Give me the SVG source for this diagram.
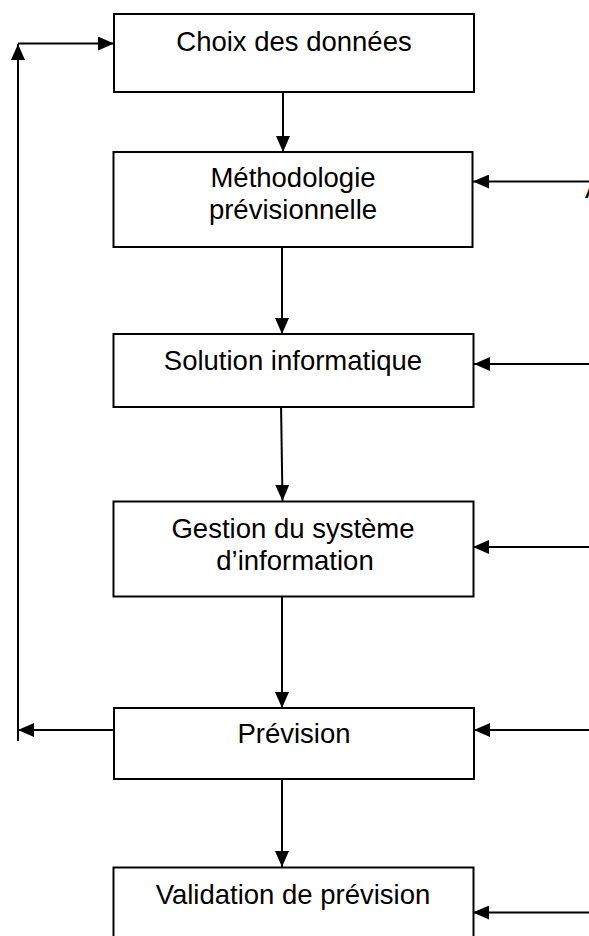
<svg xmlns="http://www.w3.org/2000/svg" width="589" height="936" viewBox="0 0 589 936">
  <style>
    .box { fill: #ffffff; stroke: #000000; stroke-width: 2; }
    .lbl { font-family: "Liberation Sans", Arial, sans-serif; font-size: 27.5px; fill: #000000; text-anchor: middle; }
    .edge { fill: none; stroke: #000000; stroke-width: 2; marker-end: url(#head); }
    .line { fill: none; stroke: #000000; stroke-width: 2; }
  </style>
  <defs>
    <marker id="head" markerUnits="userSpaceOnUse" markerWidth="16" markerHeight="14" refX="16" refY="7" orient="auto">
      <path d="M0,0 L16,7 L0,14 Z" fill="#000000"/>
    </marker>
  </defs>
  <rect width="589" height="936" fill="#ffffff"/>

  <g id="connectors">
    <!-- main chain, top to bottom -->
    <line class="edge" x1="283" y1="92" x2="283" y2="152"/>
    <line class="edge" x1="282" y1="243" x2="282" y2="334"/>
    <line class="edge" x1="281" y1="403" x2="282.5" y2="501"/>
    <line class="edge" x1="282" y1="593" x2="282" y2="708"/>
    <line class="edge" x1="282" y1="779" x2="282" y2="867"/>
    <!-- feedback loop from Prévision back to Choix des données -->
    <line class="edge" x1="114" y1="730" x2="18" y2="730"/>
    <line class="edge" x1="18" y1="741" x2="18" y2="44"/>
    <line class="edge" x1="18" y1="43.5" x2="114" y2="43.5"/>
    <!-- inputs entering from the right -->
    <line class="edge" x1="589" y1="181.5" x2="473" y2="181.5"/>
    <line class="edge" x1="589" y1="364" x2="474" y2="364"/>
    <line class="edge" x1="589" y1="547" x2="473" y2="547"/>
    <line class="edge" x1="589" y1="730" x2="474" y2="730"/>
    <line class="edge" x1="589" y1="912.5" x2="473" y2="912.5"/>
  </g>

  <g id="choix">
    <rect class="box" x="114" y="14" width="360" height="78"/>
    <text class="lbl" x="294" y="51">Choix des données</text>
  </g>

  <g id="methodologie">
    <rect class="box" x="113.5" y="152" width="359" height="95"/>
    <text class="lbl" x="293" y="187">Méthodologie</text>
    <text class="lbl" x="293" y="219">prévisionnelle</text>
  </g>

  <g id="solution">
    <rect class="box" x="113.5" y="334" width="360" height="73"/>
    <text class="lbl" x="293" y="370">Solution informatique</text>
  </g>

  <g id="gestion">
    <rect class="box" x="113.5" y="501.5" width="360" height="95"/>
    <text class="lbl" x="293" y="538">Gestion du système</text>
    <text class="lbl" x="295" y="570">d’information</text>
  </g>

  <g id="prevision">
    <rect class="box" x="114" y="708" width="360" height="71"/>
    <text class="lbl" x="294" y="743">Prévision</text>
  </g>

  <g id="validation">
    <rect class="box" x="113.5" y="867.5" width="360" height="80"/>
    <text class="lbl" x="293" y="904">Validation de prévision</text>
  </g>

  <!-- label running off the right edge -->
  <text x="585" y="198" font-family="Liberation Sans, Arial, sans-serif" font-size="27.5" fill="#000000">A</text>
</svg>
